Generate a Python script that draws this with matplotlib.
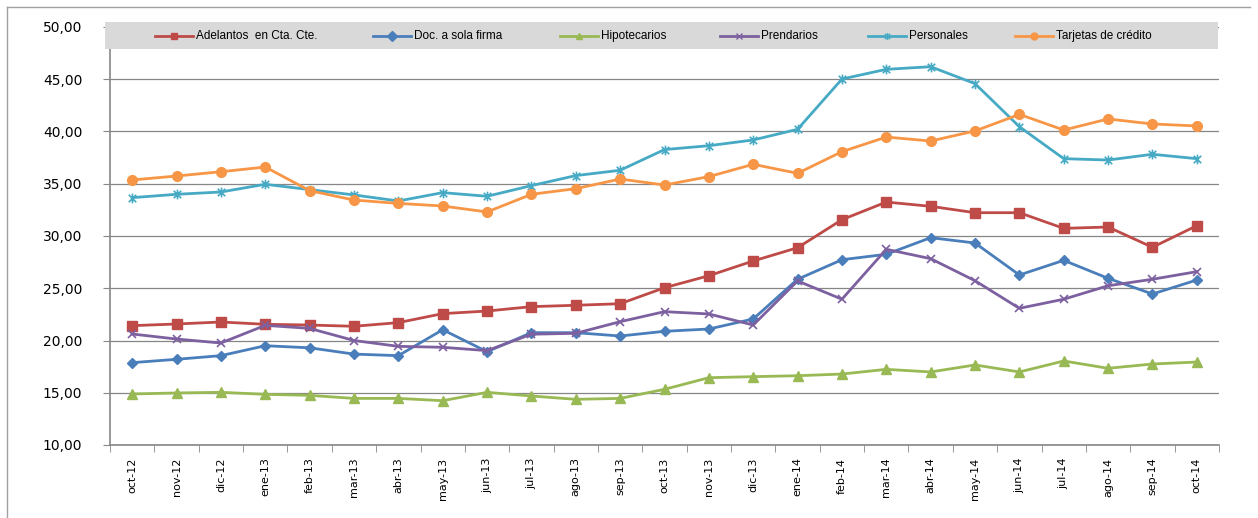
import matplotlib
matplotlib.use("Agg")
import matplotlib.pyplot as plt
from matplotlib.path import Path
from matplotlib.patches import Rectangle
from matplotlib.lines import Line2D

# datos (tasas %)
meses = ['oct-12', 'nov-12', 'dic-12', 'ene-13', 'feb-13', 'mar-13', 'abr-13', 'may-13',
         'jun-13', 'jul-13', 'ago-13', 'sep-13', 'oct-13', 'nov-13', 'dic-13', 'ene-14',
         'feb-14', 'mar-14', 'abr-14', 'may-14', 'jun-14', 'jul-14', 'ago-14', 'sep-14', 'oct-14']

adelantos = [21.42, 21.58, 21.77, 21.55, 21.48, 21.36, 21.71, 22.57, 22.82, 23.24, 23.37, 23.52, 25.05,
             26.20, 27.61, 28.88, 31.56, 33.25, 32.84, 32.23, 32.23, 30.73, 30.86, 28.92, 30.99]
doc_firma = [17.88, 18.20, 18.55, 19.50, 19.30, 18.70, 18.55, 21.03, 18.93, 20.75, 20.75, 20.43, 20.88,
             21.10, 22.06, 25.86, 27.73, 28.25, 29.84, 29.33, 26.27, 27.67, 25.95, 24.45, 25.79]
hipotecarios = [14.88, 14.98, 15.04, 14.85, 14.75, 14.46, 14.46, 14.24, 15.04, 14.69, 14.37, 14.46, 15.33,
                16.44, 16.54, 16.63, 16.79, 17.24, 16.99, 17.66, 16.99, 18.04, 17.34, 17.75, 17.94]
prendarios = [20.62, 20.14, 19.76, 21.45, 21.16, 20.00, 19.44, 19.35, 19.03, 20.60, 20.69, 21.80, 22.76,
              22.54, 21.48, 25.70, 23.95, 28.73, 27.83, 25.72, 23.08, 23.95, 25.24, 25.86, 26.59]
personales = [33.67, 33.99, 34.21, 34.95, 34.44, 33.93, 33.35, 34.15, 33.80, 34.82, 35.78, 36.29, 38.27,
              38.64, 39.19, 40.21, 45.02, 45.95, 46.20, 44.58, 40.46, 37.40, 37.27, 37.82, 37.40]
tarjetas = [35.36, 35.74, 36.15, 36.60, 34.34, 33.44, 33.12, 32.87, 32.30, 33.99, 34.53, 35.45, 34.88,
            35.68, 36.86, 36.00, 38.07, 39.47, 39.09, 40.05, 41.64, 40.14, 41.20, 40.72, 40.53]

# marcador asterisco estilo Excel (x + linea vertical)
estrella = Path([(-1, -1), (1, 1), (-1, 1), (1, -1), (0, -1.3), (0, 1.3)],
                [Path.MOVETO, Path.LINETO, Path.MOVETO, Path.LINETO, Path.MOVETO, Path.LINETO])

series = [
    ('Adelantos  en Cta. Cte.', adelantos, '#BE4B48', 's', 7),
    ('Doc. a sola firma', doc_firma, '#4A7EBB', 'D', 5),
    ('Hipotecarios', hipotecarios, '#98B954', '^', 7),
    ('Prendarios', prendarios, '#7D60A0', 'x', 6),
    ('Personales', personales, '#46AAC5', estrella, 7),
    ('Tarjetas de crédito', tarjetas, '#F79646', 'o', 7),
]
# inicio (px) de cada entrada de la leyenda
leyenda_x = [155, 373, 560, 720, 868, 1015]

fig = plt.figure(figsize=(12.58, 5.18), dpi=100)
W, H = 1258, 518
ax = fig.add_axes([110 / W, (H - 445) / H, (1219 - 110) / W, (445 - 27) / H])

x = list(range(len(meses)))
for nombre, vals, color, mk, ms in series:
    mew = 1.2 if mk in ('x',) or mk is estrella else 1
    ax.plot(x, vals, color=color, lw=2.0, marker=mk, markersize=ms,
            markerfacecolor=color, markeredgecolor=color, markeredgewidth=mew)

ax.set_xlim(-0.5, len(meses) - 0.5)
ax.set_ylim(10, 50)
ax.set_yticks(range(10, 51, 5))
ax.set_yticklabels([f'{v:.2f}'.replace('.', ',') for v in range(10, 51, 5)],
                   fontsize=10, family='DejaVu Sans')
ax.set_xticks(x)
ax.set_xticklabels(meses, rotation=90, fontsize=8, family='DejaVu Sans')
ax.set_xticks([i - 0.5 for i in range(len(meses) + 1)], minor=True)
ax.tick_params(axis='x', which='major', length=0, pad=9)
ax.tick_params(axis='x', which='minor', length=5, color='#868686', direction='out')
ax.tick_params(axis='y', length=5, color='#868686', direction='out', pad=15)

ax.grid(axis='y', color='#868686', lw=0.9)
ax.set_axisbelow(True)
for s in ['top', 'right']:
    ax.spines[s].set_visible(False)
for s in ['left', 'bottom']:
    ax.spines[s].set_color('#868686')
    ax.spines[s].set_linewidth(1.2)

# franja gris de la leyenda
fig.add_artist(Rectangle((105 / W, (H - 49) / H), (1218 - 105) / W, 27 / H,
                         transform=fig.transFigure, facecolor='#D9D9D9', edgecolor='none', zorder=3))
ly = (H - 35.5) / H
for (nombre, vals, color, mk, ms), x0 in zip(series, leyenda_x):
    fig.add_artist(Line2D([x0 / W, (x0 + 38) / W], [ly, ly], color=color, lw=2.0,
                          transform=fig.transFigure, zorder=4))
    fig.add_artist(Line2D([(x0 + 19) / W], [ly], color=color, marker=mk, markersize=5,
                          markeredgewidth=1, transform=fig.transFigure, zorder=4))
    fig.text((x0 + 41) / W, (H - 39) / H, nombre, fontsize=8.5, family='Liberation Sans',
             ha='left', va='baseline', zorder=5)

# marco del area del grafico
fig.add_artist(Line2D([7 / W, 7 / W], [0, (H - 7) / H], color='#A0A0A0', lw=1, transform=fig.transFigure))
fig.add_artist(Line2D([7 / W, 1 - 8 / W], [(H - 7) / H, (H - 7) / H], color='#A0A0A0', lw=1,
                      transform=fig.transFigure))

fig.savefig('out.png', dpi=100)
